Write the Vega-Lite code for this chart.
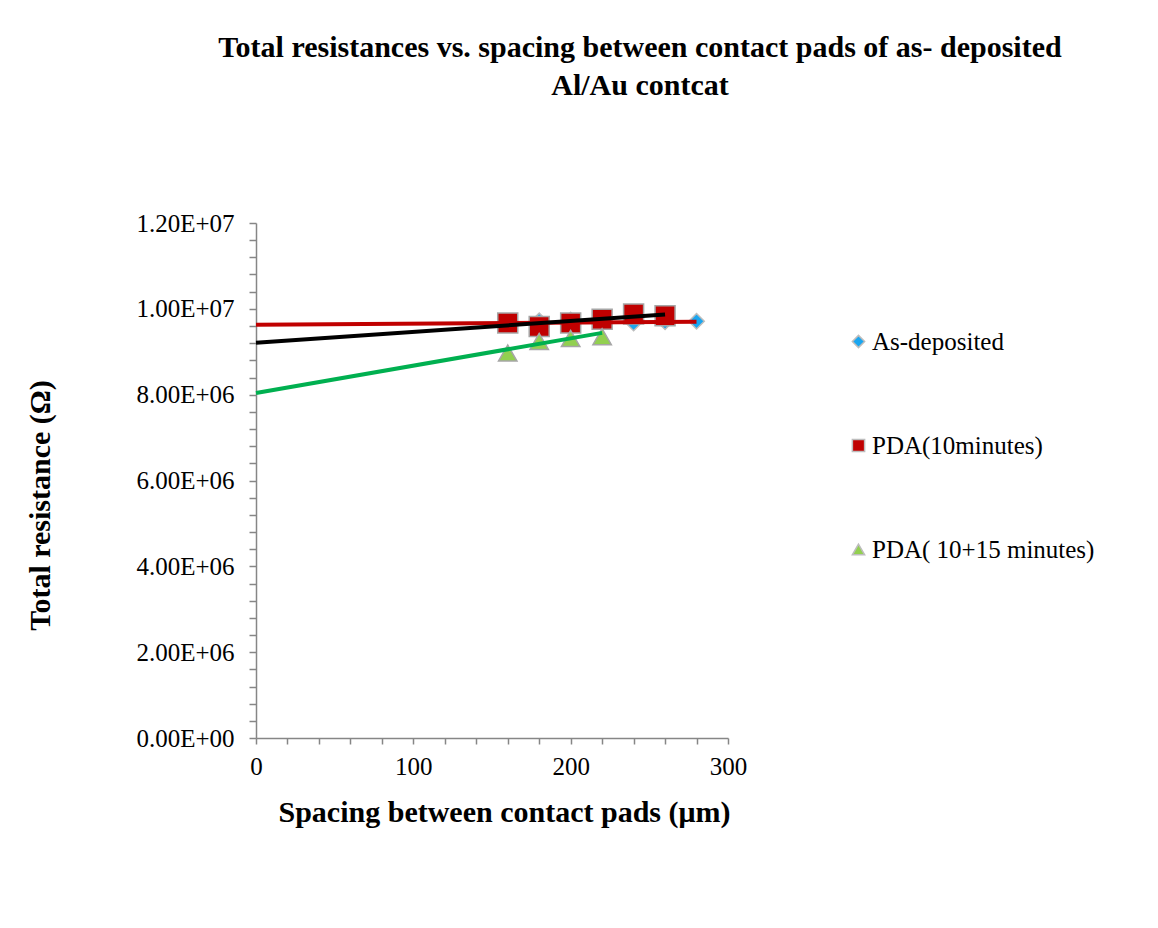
{
  "$schema": "https://vega.github.io/schema/vega-lite/v6.json",
  "width": 472,
  "height": 515,
  "autosize": {"type": "none"},
  "padding": {"left": 256, "top": 223, "right": 430, "bottom": 190},
  "background": "white",
  "config": {
    "font": "Liberation Serif",
    "view": {"stroke": null},
    "axis": {
      "grid": false,
      "domainColor": "#868686",
      "domainWidth": 1.5,
      "tickColor": "#868686",
      "tickWidth": 1.5,
      "labelColor": "black",
      "labelFont": "Liberation Serif",
      "titleFont": "Liberation Serif",
      "titleColor": "black",
      "labelOverlap": false,
      "labelBound": false,
      "labelFlush": false
    }
  },
  "title": {
    "text": ["Total resistances vs. spacing between contact pads of as- deposited", "Al/Au contcat"],
    "font": "Liberation Serif",
    "fontSize": 30,
    "fontWeight": "bold",
    "color": "black",
    "anchor": "middle",
    "frame": "group",
    "dx": 148,
    "offset": 110,
    "lineHeight": 38
  },
  "datasets": {
    "points": [
      {"series": "As-deposited", "spacing": 160, "resistance": 9680000},
      {"series": "As-deposited", "spacing": 180, "resistance": 9720000},
      {"series": "As-deposited", "spacing": 200, "resistance": 9740000},
      {"series": "As-deposited", "spacing": 220, "resistance": 9720000},
      {"series": "As-deposited", "spacing": 240, "resistance": 9670000},
      {"series": "As-deposited", "spacing": 260, "resistance": 9700000},
      {"series": "As-deposited", "spacing": 280, "resistance": 9710000},
      {"series": "PDA(10minutes)", "spacing": 160, "resistance": 9670000},
      {"series": "PDA(10minutes)", "spacing": 180, "resistance": 9590000},
      {"series": "PDA(10minutes)", "spacing": 200, "resistance": 9670000},
      {"series": "PDA(10minutes)", "spacing": 220, "resistance": 9760000},
      {"series": "PDA(10minutes)", "spacing": 240, "resistance": 9880000},
      {"series": "PDA(10minutes)", "spacing": 260, "resistance": 9840000},
      {"series": "PDA( 10+15 minutes)", "spacing": 160, "resistance": 8970000},
      {"series": "PDA( 10+15 minutes)", "spacing": 180, "resistance": 9240000},
      {"series": "PDA( 10+15 minutes)", "spacing": 200, "resistance": 9310000},
      {"series": "PDA( 10+15 minutes)", "spacing": 220, "resistance": 9350000}
    ],
    "trend": [
      {"trend": "As-deposited", "spacing": 0, "resistance": 9630000},
      {"trend": "As-deposited", "spacing": 280, "resistance": 9700000},
      {"trend": "PDA(10minutes)", "spacing": 0, "resistance": 9210000},
      {"trend": "PDA(10minutes)", "spacing": 260, "resistance": 9870000},
      {"trend": "PDA( 10+15 minutes)", "spacing": 0, "resistance": 8040000},
      {"trend": "PDA( 10+15 minutes)", "spacing": 220, "resistance": 9440000}
    ]
  },
  "encoding": {
    "x": {
      "field": "spacing", "type": "quantitative",
      "scale": {"domain": [0, 300], "nice": false},
      "axis": {
        "values": [0, 20, 40, 60, 80, 100, 120, 140, 160, 180, 200, 220, 240, 260, 280, 300],
        "labelExpr": "datum.value % 100 == 0 ? datum.label : ''",
        "labelFontSize": 25,
        "labelPadding": 10,
        "tickSize": 6,
        "title": "Spacing between contact pads (μm)",
        "titleFontSize": 30,
        "titleFontWeight": "bold",
        "titleX": 248,
        "titleY": 74,
        "titleBaseline": "middle",
        "titleAnchor": null
      }
    },
    "y": {
      "field": "resistance", "type": "quantitative",
      "scale": {"domain": [0, 12000000], "nice": false},
      "axis": {
        "values": [0, 400000, 800000, 1200000, 1600000, 2000000, 2400000, 2800000, 3200000, 3600000, 4000000, 4400000, 4800000, 5200000, 5600000, 6000000, 6400000, 6800000, 7200000, 7600000, 8000000, 8400000, 8800000, 9200000, 9600000, 10000000, 10400000, 10800000, 11200000, 11600000, 12000000],
        "labelExpr": "datum.value % 2000000 != 0 ? '' : (datum.value == 0 ? '0.00E+00' : (datum.value >= 10000000 ? format(datum.value / 10000000, '.2f') + 'E+07' : format(datum.value / 1000000, '.2f') + 'E+06'))",
        "labelFontSize": 25,
        "labelPadding": 15,
        "tickSize": 7,
        "title": "Total resistance (Ω)",
        "titleFontSize": 30,
        "titleFontWeight": "bold",
        "titleAngle": -90,
        "titleX": -216,
        "titleY": 282,
        "titleBaseline": "middle",
        "titleAlign": "center",
        "titleAnchor": null
      }
    }
  },
  "layer": [
    {
      "data": {"name": "points"},
      "transform": [{"filter": "datum.series == 'As-deposited'"}],
      "mark": {"type": "point", "filled": true, "stroke": "#BDBDBD", "strokeWidth": 1.5, "opacity": 1, "size": 240},
      "encoding": {
        "shape": {
          "field": "series", "type": "nominal",
          "scale": {"domain": ["As-deposited", "PDA(10minutes)", "PDA( 10+15 minutes)"], "range": ["diamond", "square", "triangle-up"]},
          "legend": {"title": null, "orient": "right", "offset": 12, "padding": 106, "labelFontSize": 25, "labelFont": "Liberation Serif", "labelColor": "black", "labelLimit": 400, "symbolSize": 150, "rowPadding": 78, "labelOffset": 1, "encode": {"symbols": {"update": {"stroke": {"value": "#A6A6A6"}, "strokeWidth": {"value": 1.5}}}}}
        },
        "fill": {
          "field": "series", "type": "nominal",
          "scale": {"domain": ["As-deposited", "PDA(10minutes)", "PDA( 10+15 minutes)"], "range": ["#1AA6F0", "#C00000", "#92D050"]},
          "legend": {"title": null, "orient": "right", "offset": 12, "padding": 106, "labelFontSize": 25, "labelFont": "Liberation Serif", "labelColor": "black", "labelLimit": 400, "symbolSize": 150, "rowPadding": 78, "labelOffset": 1, "encode": {"symbols": {"update": {"stroke": {"value": "#A6A6A6"}, "strokeWidth": {"value": 1.5}}}}}
        }
      }
    },
    {
      "data": {"name": "points"},
      "transform": [{"filter": "datum.series == 'PDA(10minutes)'"}],
      "mark": {"type": "point", "filled": true, "stroke": "#A6A6A6", "strokeWidth": 1.5, "opacity": 1, "size": 400},
      "encoding": {
        "shape": {"field": "series", "type": "nominal"},
        "fill": {"field": "series", "type": "nominal"}
      }
    },
    {
      "data": {"name": "points"},
      "transform": [{"filter": "datum.series == 'PDA( 10+15 minutes)'"}],
      "mark": {"type": "point", "filled": true, "stroke": "#A6A6A6", "strokeWidth": 1.5, "opacity": 1, "size": 340},
      "encoding": {
        "shape": {"field": "series", "type": "nominal"},
        "fill": {"field": "series", "type": "nominal"}
      }
    },
    {
      "data": {"name": "trend"},
      "transform": [{"filter": "datum.trend == 'As-deposited'"}],
      "mark": {"type": "line", "strokeWidth": 4, "color": "#C00000"},
      "encoding": {}
    },
    {
      "data": {"name": "trend"},
      "transform": [{"filter": "datum.trend == 'PDA(10minutes)'"}],
      "mark": {"type": "line", "strokeWidth": 4, "color": "#000000"},
      "encoding": {}
    },
    {
      "data": {"name": "trend"},
      "transform": [{"filter": "datum.trend == 'PDA( 10+15 minutes)'"}],
      "mark": {"type": "line", "strokeWidth": 4, "color": "#00B050"},
      "encoding": {}
    }
  ]
}
